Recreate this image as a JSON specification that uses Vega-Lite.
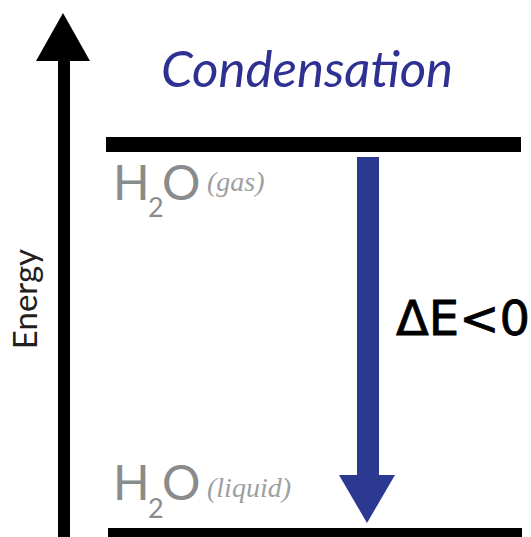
{
  "$schema": "https://vega.github.io/schema/vega-lite/v6.json",
  "width": 531,
  "height": 537,
  "padding": 0,
  "autosize": {"type": "none"},
  "background": "white",
  "config": {"view": {"stroke": null}},
  "datasets": {
    "bars": [
      {"part": "axis", "x": 58, "x2": 70, "y": 58, "y2": 545},
      {"part": "level", "x": 106, "x2": 521, "y": 137, "y2": 152},
      {"part": "level", "x": 108, "x2": 522, "y": 528, "y2": 545},
      {"part": "change", "x": 357, "x2": 379, "y": 157, "y2": 477}
    ],
    "heads": [
      {"part": "axis", "x": 36, "y": 61, "y2": 61},
      {"part": "axis", "x": 63, "y": 13, "y2": 61},
      {"part": "axis", "x": 90, "y": 61, "y2": 61},
      {"part": "change", "x": 339, "y": 475, "y2": 475},
      {"part": "change", "x": 367, "y": 523, "y2": 475},
      {"part": "change", "x": 395, "y": 475, "y2": 475}
    ],
    "texts": [
      {"role": "title", "label": "Condensation", "x": 161, "y": 87},
      {"role": "axis", "label": "Energy", "x": 37, "y": 299},
      {"role": "delta", "label": "ΔE<0", "x": 396, "y": 335},
      {"role": "main", "label": "H", "x": 113, "y": 200},
      {"role": "main", "label": "O", "x": 162, "y": 200},
      {"role": "sub", "label": "2", "x": 148, "y": 217},
      {"role": "state", "label": "(gas)", "x": 207, "y": 191},
      {"role": "main", "label": "H", "x": 113, "y": 500},
      {"role": "main", "label": "O", "x": 162, "y": 500},
      {"role": "sub", "label": "2", "x": 148, "y": 518},
      {"role": "state", "label": "(liquid)", "x": 207, "y": 497}
    ]
  },
  "encoding": {
    "x": {"field": "x", "type": "quantitative", "scale": {"domain": [0, 531], "nice": false, "zero": false}, "axis": null},
    "y": {"field": "y", "type": "quantitative", "scale": {"domain": [0, 537], "nice": false, "zero": false, "reverse": true}, "axis": null}
  },
  "layer": [
    {
      "data": {"name": "bars"},
      "transform": [{"filter": "datum.part !== 'change'"}],
      "mark": {"type": "rect", "color": "#000000"},
      "encoding": {"x2": {"field": "x2"}, "y2": {"field": "y2"}}
    },
    {
      "data": {"name": "bars"},
      "transform": [{"filter": "datum.part === 'change'"}],
      "mark": {"type": "rect", "color": "#2b3990"},
      "encoding": {"x2": {"field": "x2"}, "y2": {"field": "y2"}}
    },
    {
      "data": {"name": "heads"},
      "transform": [{"filter": "datum.part === 'axis'"}],
      "mark": {"type": "area", "orient": "vertical", "color": "#000000", "opacity": 1},
      "encoding": {"y2": {"field": "y2"}}
    },
    {
      "data": {"name": "heads"},
      "transform": [{"filter": "datum.part === 'change'"}],
      "mark": {"type": "area", "orient": "vertical", "color": "#2b3990", "opacity": 1},
      "encoding": {"y2": {"field": "y2"}}
    },
    {
      "data": {"name": "texts"},
      "transform": [{"filter": "datum.role === 'title'"}],
      "mark": {"type": "text", "font": "Lato", "fontStyle": "italic", "fontSize": 51, "color": "#2e3192", "align": "left", "baseline": "alphabetic"},
      "encoding": {"text": {"field": "label"}}
    },
    {
      "data": {"name": "texts"},
      "transform": [{"filter": "datum.role === 'axis'"}],
      "mark": {"type": "text", "font": "Lato", "fontSize": 33, "color": "#231f20", "align": "center", "baseline": "alphabetic", "angle": 270},
      "encoding": {"text": {"field": "label"}}
    },
    {
      "data": {"name": "texts"},
      "transform": [{"filter": "datum.role === 'delta'"}],
      "mark": {"type": "text", "font": "DejaVu Sans", "fontSize": 48, "color": "#000000", "stroke": "#000000", "strokeWidth": 0.8, "align": "left", "baseline": "alphabetic"},
      "encoding": {"text": {"field": "label"}}
    },
    {
      "data": {"name": "texts"},
      "transform": [{"filter": "datum.role === 'main'"}],
      "mark": {"type": "text", "font": "Lato", "fontSize": 48, "color": "#8a8b8d", "align": "left", "baseline": "alphabetic"},
      "encoding": {"text": {"field": "label"}}
    },
    {
      "data": {"name": "texts"},
      "transform": [{"filter": "datum.role === 'sub'"}],
      "mark": {"type": "text", "font": "Lato", "fontSize": 27, "color": "#8a8b8d", "align": "left", "baseline": "alphabetic"},
      "encoding": {"text": {"field": "label"}}
    },
    {
      "data": {"name": "texts"},
      "transform": [{"filter": "datum.role === 'state'"}],
      "mark": {"type": "text", "font": "Liberation Serif", "fontStyle": "italic", "fontSize": 28, "color": "#9d9fa2", "align": "left", "baseline": "alphabetic"},
      "encoding": {"text": {"field": "label"}}
    }
  ]
}
